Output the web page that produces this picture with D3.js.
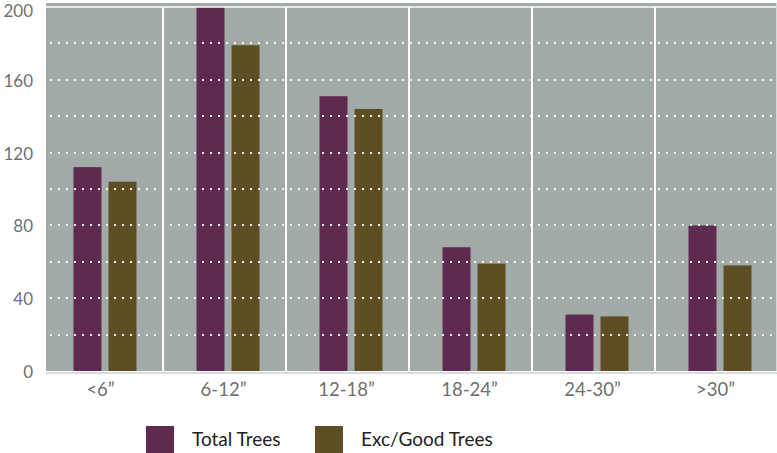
<!DOCTYPE html>
<html>
<head>
<meta charset="utf-8">
<script src="https://cdn.jsdelivr.net/npm/d3@7"></script>
<style>
  body { margin: 0; background: #fff; }
  svg { display: block; font-family: Lato, "Open Sans", sans-serif; }
</style>
</head>
<body>
<svg id="tree-chart" width="777" height="453"></svg>
<script>
// data
const categories = ['<6\u201D', '6-12\u201D', '12-18\u201D', '18-24\u201D', '24-30\u201D', '>30\u201D'];
const seriesNames = ['Total Trees', 'Exc/Good Trees'];
const totalTrees = [112, 200, 151, 68, 31, 80];
const goodTrees = [104, 179, 144, 59, 30, 58];
const yTicks = [0, 40, 80, 120, 160, 200];
const colors = ['#5e2a50', '#5e4e23'];

const svg = d3.select('#tree-chart');
const plotLeft = 46, plotRight = 777, plotTop = 3, plotBottom = 371;

// first band is partly hidden behind the y labels
const x = d3.scaleBand().domain(categories).range([40, 778]);
const x1 = d3.scaleBand().domain(seriesNames).range([-28, 35]).paddingInner(0.2);
const y = d3.scaleLinear().domain([0, 200]).range([plotBottom, 7]);

// plot background
svg.append('rect')
    .attr('x', plotLeft).attr('y', plotTop)
    .attr('width', plotRight - plotLeft - 1).attr('height', plotBottom - plotTop)
    .attr('fill', '#a2aaa8');

// vertical separators between categories
svg.append('g').selectAll('line')
    .data(categories.slice(1))
    .enter().append('line')
    .attr('x1', d => x(d)).attr('x2', d => x(d))
    .attr('y1', y(200)).attr('y2', plotBottom)
    .attr('stroke', '#fff').attr('stroke-width', 2);

// bars
const rows = categories.map((c, i) => ({cat: c, vals: [totalTrees[i], goodTrees[i]]}));
const groups = svg.append('g').selectAll('g')
    .data(rows)
    .enter().append('g')
    .attr('transform', d => 'translate(' + (x(d.cat) + x.bandwidth() / 2) + ',0)');

groups.selectAll('rect')
    .data(d => d.vals.map((v, j) => ({name: seriesNames[j], v: v, j: j})))
    .enter().append('rect')
    .attr('x', d => x1(d.name))
    .attr('width', x1.bandwidth())
    .attr('y', d => y(d.v))
    .attr('height', d => plotBottom - y(d.v))
    .attr('fill', d => colors[d.j]);

// solid line at the top
svg.append('line')
    .attr('x1', plotLeft).attr('x2', plotRight - 1)
    .attr('y1', y(200)).attr('y2', y(200))
    .attr('stroke', '#fff').attr('stroke-width', 1.5);

// dotted gridlines, on top of the bars
svg.append('g').selectAll('line')
    .data(d3.range(20, 200, 20))
    .enter().append('line')
    .attr('x1', plotLeft + 4).attr('x2', plotRight - 1)
    .attr('y1', d => Math.round(y(d))).attr('y2', d => Math.round(y(d)))
    .attr('stroke', '#fff').attr('stroke-width', 2)
    .attr('stroke-dasharray', '2,6')
    .attr('opacity', 0.9);

// baseline
svg.append('line')
    .attr('x1', plotLeft).attr('x2', plotRight)
    .attr('y1', plotBottom + 2).attr('y2', plotBottom + 2)
    .attr('stroke', '#cfcfcf').attr('stroke-width', 1.5);

// right edge
svg.append('line')
    .attr('x1', plotRight - 0.5).attr('x2', plotRight - 0.5)
    .attr('y1', plotTop).attr('y2', plotBottom)
    .attr('stroke', '#d4d8d7').attr('stroke-width', 1);

// y labels (top one pushed down so it is not cut)
svg.append('g').selectAll('text')
    .data(yTicks)
    .enter().append('text')
    .attr('x', 33)
    .attr('y', d => Math.max(y(d) + 7, 17))
    .attr('text-anchor', 'end')
    .attr('fill', '#707070')
    .style('font-size', '17px')
    .text(d => d);

// x labels
svg.append('g').selectAll('text')
    .data(categories)
    .enter().append('text')
    .attr('x', d => x(d) + x.bandwidth() / 2 - 1)
    .attr('y', 396)
    .attr('text-anchor', 'middle')
    .attr('fill', '#707070')
    .style('font-size', '18.5px')
    .text(d => d);

// legend
const legendX = [146, 315];
const legend = svg.append('g').selectAll('g')
    .data(seriesNames)
    .enter().append('g')
    .attr('transform', (d, i) => 'translate(' + legendX[i] + ',426)');
legend.append('rect')
    .attr('width', 28).attr('height', 27)
    .attr('fill', (d, i) => colors[i]);
legend.append('text')
    .attr('x', 46).attr('y', 20)
    .attr('fill', '#222')
    .style('font-size', '19px')
    .text(d => d);
</script>
</body>
</html>
